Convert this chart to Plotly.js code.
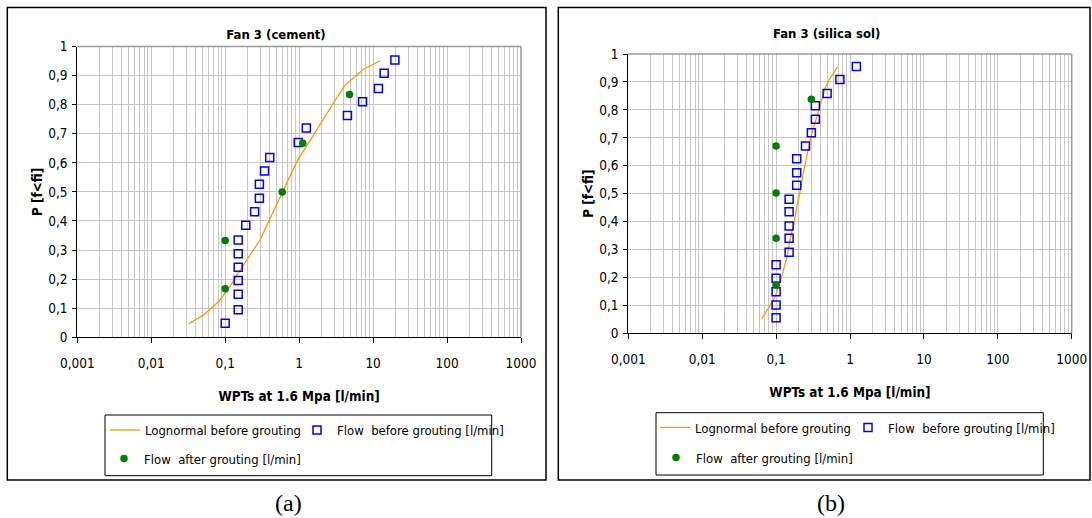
<!DOCTYPE html>
<html><head><meta charset="utf-8">
<script src="https://cdn.plot.ly/plotly-3.0.1.min.js"></script>
<style>html,body{margin:0;padding:0;background:#fff}#chart{width:1092px;height:518px}</style>
</head><body><div id="chart"></div>
<script>
// ---- Fan 3 (cement) ----
const cementLognX = [0.032, 0.051, 0.081, 0.116, 0.159, 0.217, 0.297, 0.405, 0.614, 0.93, 1.41, 2.0, 2.6, 3.2, 4.2, 5.0, 7.4, 12.5];
const cementLognP = [0.046, 0.077, 0.122, 0.174, 0.231, 0.283, 0.335, 0.409, 0.507, 0.604, 0.678, 0.74, 0.79, 0.822, 0.868, 0.885, 0.922, 0.951];
const cementBeforeX = [0.1, 0.15, 0.15, 0.15, 0.15, 0.15, 0.15, 0.19, 0.25, 0.29, 0.29, 0.34, 0.4, 0.97, 1.25, 4.5, 7.2, 11.8, 14.1, 19.7];
const cementBeforeP = [0.048, 0.095, 0.148, 0.195, 0.241, 0.287, 0.335, 0.385, 0.432, 0.478, 0.526, 0.572, 0.618, 0.670, 0.72, 0.763, 0.810, 0.856, 0.908, 0.954];
const cementAfterX = [0.1, 0.1, 0.59, 1.12, 4.8];
const cementAfterP = [0.167, 0.333, 0.5, 0.667, 0.835];

// ---- Fan 3 (silica sol) ----
const silicaLognX = [0.064, 0.079, 0.097, 0.119, 0.139, 0.154, 0.175, 0.190, 0.211, 0.233, 0.259, 0.30, 0.373, 0.459, 0.536, 0.673];
const silicaLognP = [0.051, 0.089, 0.131, 0.203, 0.268, 0.334, 0.394, 0.453, 0.507, 0.573, 0.632, 0.71, 0.793, 0.877, 0.913, 0.952];
const silicaBeforeX = [0.1, 0.1, 0.1, 0.1, 0.1, 0.15, 0.15, 0.15, 0.15, 0.15, 0.19, 0.19, 0.19, 0.25, 0.3, 0.34, 0.34, 0.49, 0.73, 1.22];
const silicaBeforeP = [0.056, 0.101, 0.149, 0.197, 0.245, 0.290, 0.340, 0.384, 0.435, 0.480, 0.530, 0.575, 0.625, 0.671, 0.718, 0.766, 0.815, 0.859, 0.909, 0.955];
const silicaAfterX = [0.1, 0.1, 0.1, 0.1, 0.3];
const silicaAfterP = [0.173, 0.34, 0.502, 0.671, 0.838];

// ---- labels ----
const xTickVals = [0.001, 0.01, 0.1, 1, 10, 100, 1000];
const xTickText = ['0,001', '0,01', '0,1', '1', '10', '100', '1000'];
const titles = ['Fan 3 (cement)', 'Fan 3 (silica sol)'];
const xTitle = 'WPTs at 1.6 Mpa [l/min]';
const yTitle = 'P [f<fi]';
const seriesNames = ['Lognormal before grouting', 'Flow  before grouting [l/min]', 'Flow  after grouting [l/min]'];
const captions = ['(a)', '(b)'];

// ---- layout helpers ----
const W = 1092, H = 518;
const px = v => v / W;
const py = v => (H - v) / H;
const NARROW = '"Liberation Sans Narrow", "Arial Narrow", "DejaVu Sans Condensed", Arial, sans-serif';
const SERIF = '"Liberation Serif", "Times New Roman", serif';
const GRID = '#c6c6c6';

const minorVals = [];
for (let k = -3; k < 3; k++) for (let m = 2; m <= 9; m++) minorVals.push(m * Math.pow(10, k));

function xAxis(d0, d1, anchor) {
  return {
    type: 'log', domain: [px(d0), px(d1)], anchor: anchor, range: [-3, 3],
    tickmode: 'array', tickvals: xTickVals, ticktext: xTickText,
    ticks: 'outside', ticklen: 5, tickwidth: 1, tickcolor: '#000',
    showline: true, linecolor: '#000', linewidth: 1,
    showgrid: true, gridcolor: GRID, gridwidth: 1, zeroline: false,
    minor: {tickmode: 'array', tickvals: minorVals, showgrid: true, gridcolor: GRID, gridwidth: 1, ticks: ''},
    tickfont: {family: NARROW, size: 13.5, color: '#000'}, ticklabelstandoff: 8,
    title: {text: xTitle, font: {family: NARROW, size: 13.4, color: '#000', weight: 'bold'}, standoff: 22},
    fixedrange: true
  };
}
function yAxis(top, bottom, anchor) {
  return {
    domain: [py(bottom), py(top)], anchor: anchor, range: [0, 1],
    tickmode: 'linear', tick0: 0, dtick: 0.1,
    ticks: 'outside', ticklen: 4, tickwidth: 1, tickcolor: '#000',
    showline: true, linecolor: '#000', linewidth: 1,
    showgrid: true, gridcolor: GRID, gridwidth: 1, zeroline: false,
    tickfont: {family: NARROW, size: 13.5, color: '#000'}, ticklabelstandoff: 2,
    title: {text: yTitle, font: {family: NARROW, size: 13.4, color: '#000', weight: 'bold'}, standoff: 2},
    fixedrange: true
  };
}

function traces(lx, lp, bx, bp, ax, ap, xa, ya, lg1, lg2, lw) {
  return [
    {x: lx, y: lp, xaxis: xa, yaxis: ya, type: 'scatter', mode: 'lines', name: seriesNames[0],
     line: {color: '#FF9900', width: 1.3}, legend: lg1, legendwidth: lw, hoverinfo: 'skip'},
    {x: bx, y: bp, xaxis: xa, yaxis: ya, type: 'scatter', mode: 'markers', name: seriesNames[1],
     marker: {symbol: 'square-open', size: 8, color: '#0000FF', line: {width: 1.5, color: '#0000FF'}}, legend: lg1, hoverinfo: 'skip'},
    {x: ax, y: ap, xaxis: xa, yaxis: ya, type: 'scatter', mode: 'markers', name: seriesNames[2],
     marker: {symbol: 'circle', size: 7.5, color: '#008000'}, legend: lg2, hoverinfo: 'skip'}
  ];
}

const data = [].concat(
  traces(cementLognX, cementLognP, cementBeforeX, cementBeforeP, cementAfterX, cementAfterP, 'x', 'y', 'legend', 'legend2', 147),
  traces(silicaLognX, silicaLognP, silicaBeforeX, silicaBeforeP, silicaAfterX, silicaAfterP, 'x2', 'y2', 'legend3', 'legend4', 148)
);

function legendAt(x, top) {
  return {x: px(x), xanchor: 'left', y: py(top), yanchor: 'top', orientation: 'h',
    bgcolor: 'rgba(0,0,0,0)', borderwidth: 0,
    font: {family: NARROW, size: 13, color: '#000'}, traceorder: 'normal', itemclick: false, itemdoubleclick: false};
}

function rect(x0, y0, x1, y1, w) {
  return {type: 'rect', xref: 'paper', yref: 'paper', x0: px(x0), x1: px(x1), y0: py(y1), y1: py(y0),
    line: {color: '#000', width: w}, fillcolor: 'rgba(0,0,0,0)', layer: 'above'};
}
function edge(xr, yr, x0, y0, x1, y1) {
  return {type: 'line', xref: xr, yref: yr, x0: x0, y0: y0, x1: x1, y1: y1,
    line: {color: '#9a9a9a', width: 1.5}, layer: 'above'};
}

const layout = {
  width: W, height: H, autosize: false,
  margin: {l: 0, r: 0, t: 0, b: 0, pad: 0},
  paper_bgcolor: '#fff', plot_bgcolor: '#fff',
  separators: ',.',
  font: {family: NARROW, color: '#000'},
  title: {text: titles[0], x: px(276), xanchor: 'center', y: py(34), yanchor: 'middle', yref: 'container', xref: 'container',
    font: {family: NARROW, size: 13, color: '#000', weight: 'bold'}},
  xaxis: xAxis(77.3, 521, 'y'),
  yaxis: yAxis(46.5, 337.3, 'x'),
  xaxis2: xAxis(628.3, 1071.7, 'y2'),
  yaxis2: yAxis(54, 333.3, 'x2'),
  legend: legendAt(105, 415),
  legend2: legendAt(104, 443.5),
  legend3: legendAt(655, 412.5),
  legend4: legendAt(656, 442.5),
  annotations: [
    {text: titles[1], xref: 'paper', yref: 'paper', x: px(826), y: py(34), xanchor: 'center', yanchor: 'middle', showarrow: false,
     font: {family: NARROW, size: 13, color: '#000', weight: 'bold'}},
    {text: captions[0], xref: 'paper', yref: 'paper', x: px(288), y: 0, xanchor: 'center', yanchor: 'bottom', showarrow: false,
     font: {family: SERIF, size: 24, color: '#000'}},
    {text: captions[1], xref: 'paper', yref: 'paper', x: px(830.7), y: 0, xanchor: 'center', yanchor: 'bottom', showarrow: false,
     font: {family: SERIF, size: 24, color: '#000'}}
  ],
  shapes: [
    rect(7.3, 7.5, 546, 480, 1.5),
    rect(558.3, 7.5, 1090, 480, 1.5),
    rect(105, 415, 491.7, 475.7, 1),
    rect(656, 412.7, 1043.3, 475, 1),
    edge('x domain', 'y domain', 0, 1, 1, 1),
    edge('x domain', 'y domain', 1, 0, 1, 1),
    edge('x2 domain', 'y2 domain', 0, 1, 1, 1),
    edge('x2 domain', 'y2 domain', 1, 0, 1, 1)
  ],
  showlegend: true
};

Plotly.newPlot('chart', data, layout, {displayModeBar: false, staticPlot: true});
</script>
</body></html>
